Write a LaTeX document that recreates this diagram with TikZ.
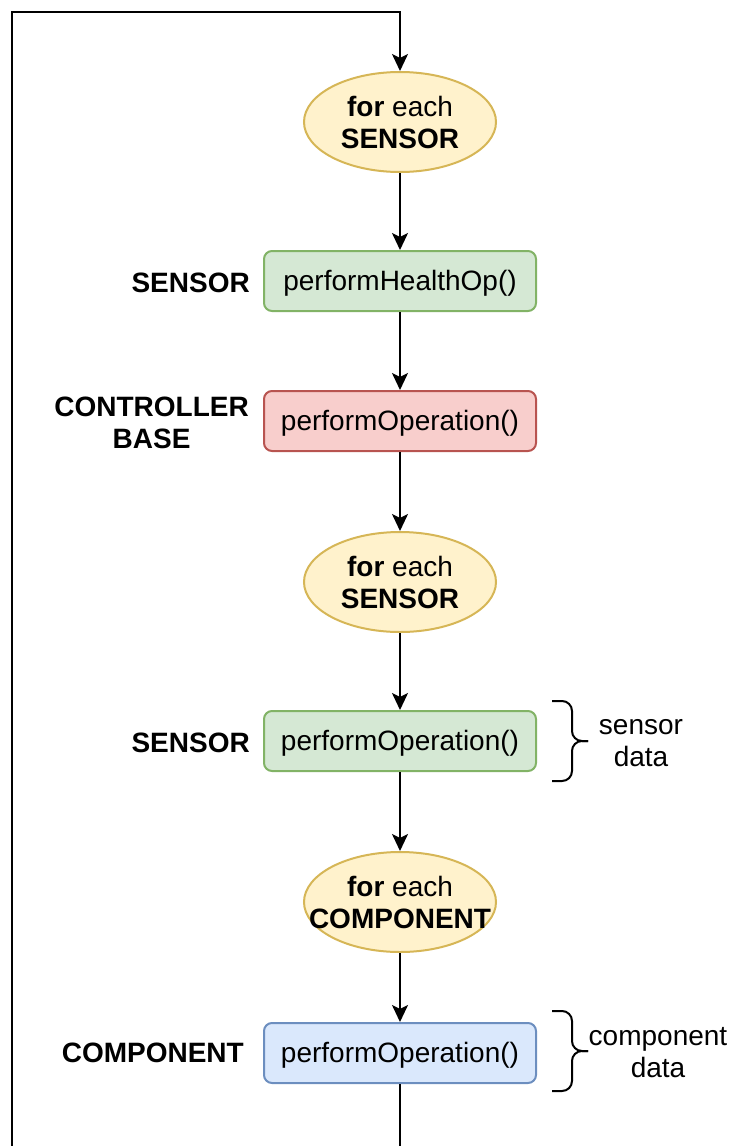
\documentclass[tikz,border=0pt]{standalone}
\usepackage{fontspec}
\setmainfont{Liberation Sans}
\usetikzlibrary{shapes.geometric,arrows.meta}

\definecolor{loopfill}{HTML}{FFF2CC}
\definecolor{loopline}{HTML}{D6B656}
\definecolor{greenfill}{HTML}{D5E8D4}
\definecolor{greenline}{HTML}{82B366}
\definecolor{redfill}{HTML}{F8CECC}
\definecolor{redline}{HTML}{B85450}
\definecolor{bluefill}{HTML}{DAE8FC}
\definecolor{blueline}{HTML}{6C8EBF}

\tikzset{
  txt/.style={font=\fontsize{28}{32}\selectfont, inner sep=0pt, align=center},
  loopnode/.style={ellipse, draw=loopline, fill=loopfill, line width=2pt,
    minimum width=192pt, minimum height=100pt, inner sep=0pt},
  opbox/.style={rounded corners=8pt, line width=2pt, minimum width=272pt,
    minimum height=60pt, inner sep=0pt, txt, text height=22pt, text depth=4pt},
  sensorop/.style={opbox, draw=greenline, fill=greenfill},
  baseop/.style={opbox, draw=redline, fill=redfill},
  compop/.style={opbox, draw=blueline, fill=bluefill},
  role/.style={txt, font=\fontsize{28}{32}\selectfont\bfseries, anchor=east},
  flow/.style={line width=2pt, -{Stealth[length=17pt,width=16pt,inset=4pt]}},
  brace/.style={line width=2pt, rounded corners=10pt},
}

\begin{document}
\begin{tikzpicture}[x=1pt, y=-1pt]
  \path[use as bounding box, clip] (0,0) rectangle (729,1146);

  % main flow nodes
  \node[loopnode] (e1) at (400,122) {};
  \node[txt] (t1) at (e1) {\textbf{for} each\\\textbf{SENSOR}};
  \node[sensorop] (b1) at (400,281) {performHealthOp()};
  \node[baseop] (b2) at (400,421) {performOperation()};
  \node[loopnode] (e2) at (400,582) {};
  \node[txt] (t2) at (e2) {\textbf{for} each\\\textbf{SENSOR}};
  \node[sensorop] (b3) at (400,741) {performOperation()};
  \node[loopnode] (e3) at (400,902) {};
  \node[txt] (t3) at (e3) {\textbf{for} each\\\textbf{COMPONENT}};
  \node[compop] (b4) at (400,1053) {performOperation()};

  % role labels on the left
  \node[role] (r1) at (250,283) {SENSOR};
  \node[role] (r2) at (249,423) {CONTROLLER\\BASE};
  \node[role] (r3) at (250,743) {SENSOR};
  \node[role] (r4) at (244,1053) {COMPONENT};

  % data braces and their labels
  \draw[brace] (552,701) -- (572,701) -- (572,741) -- (588,741);
  \draw[brace] (552,781) -- (572,781) -- (572,741) -- (588,741);
  \node[txt] (d1) at (641,743) {sensor\\data};
  \draw[brace] (552,1011) -- (572,1011) -- (572,1051) -- (588,1051);
  \draw[brace] (552,1091) -- (572,1091) -- (572,1051) -- (588,1051);
  \node[txt] (d2) at (658,1053) {component\\data};

  % connectors
  \draw[flow] (e1) -- (b1);
  \draw[flow] (b1) -- (b2);
  \draw[flow] (b2) -- (e2);
  \draw[flow] (e2) -- (b3);
  \draw[flow] (b3) -- (e3);
  \draw[flow] (e3) -- (b4);

  % loop back to the outer iteration
  \coordinate (low) at (400,1180);
  \coordinate (lowleft) at (12,1180);
  \coordinate (topleft) at (12,12);
  \coordinate (top) at (400,12);
  \draw[flow] (b4.south) -- (low) -- (lowleft) -- (topleft) -- (top) -- (e1.north);
\end{tikzpicture}
\end{document}
